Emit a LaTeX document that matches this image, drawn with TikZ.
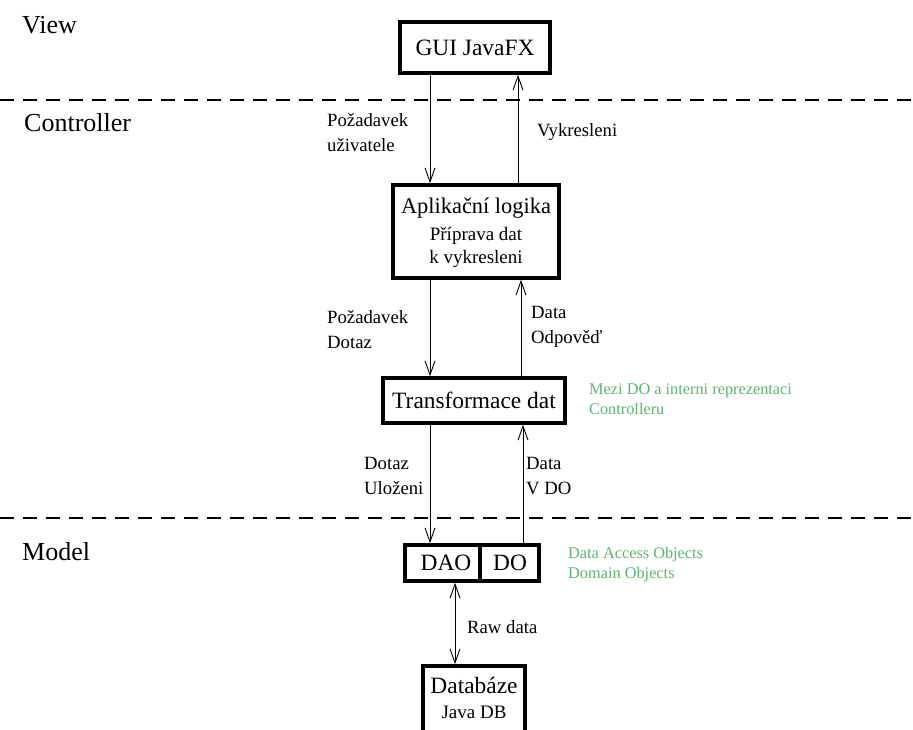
\documentclass[tikz,border=0pt]{standalone}
\usepackage{fontspec}
\setmainfont{Liberation Serif}
\newfontfamily\tnr{Liberation Serif}
\usetikzlibrary{arrows.meta}
\definecolor{notegreen}{RGB}{95,180,115}
\begin{document}
\begin{tikzpicture}[x=1pt,y=-1pt,
  box/.style={draw=black,line width=3.6pt,inner sep=0pt,fill=white},
  txt/.style={inner sep=0pt,anchor=west,align=left,font=\tnr\fontsize{18.7}{25}\selectfont},
  note/.style={inner sep=0pt,anchor=west,align=left,text=notegreen,font=\tnr\fontsize{16.3}{20}\selectfont},
  layer/.style={inner sep=0pt,anchor=west,font=\tnr\fontsize{26}{30}\selectfont},
  title/.style={inner sep=0pt,font=\tnr\fontsize{23.4}{27}\selectfont},
  sub/.style={inner sep=0pt,font=\tnr\fontsize{19}{22}\selectfont},
  arr/.style={line width=1pt,-{Straight Barb[length=14pt,width=10pt,line width=0.9pt]}},
  darr/.style={line width=1pt,{Straight Barb[length=14pt,width=10pt,line width=0.9pt]}-{Straight Barb[length=14pt,width=10pt,line width=0.9pt]}},
  sep/.style={line width=1.3pt,dash pattern=on 14pt off 9pt}]
\clip (0,0) rectangle (913,729);
\fill[white] (0,0) rectangle (913,729);

% layer separators
\draw[sep] (0,100) -- (913,100);
\draw[sep] (0,518) -- (913,518);

% layer names
\node[layer] (view) at (22,25) {View};
\node[layer] (ctrl) at (24,123) {Controller};
\node[layer] (model) at (22,552) {Model};

% boxes
\node[box,minimum width=150pt,minimum height=51pt] (gui) at (475,47.5) {};
\node[title] (guit) at (gui.center) {GUI JavaFX};

\node[box,minimum width=166pt,minimum height=93pt] (app) at (476,231.5) {};
\node[title,font=\tnr\fontsize{22.4}{26}\selectfont] (appt) at (476,208) {Aplikační logika};
\node[sub] (apps1) at (476,236) {Příprava dat};
\node[sub] (apps2) at (476,259) {k vykresleni};

\node[box,minimum width=182pt,minimum height=45pt] (tr) at (474,400.5) {};
\node[title] (trt) at (tr.center) {Transformace dat};

\node[box,minimum width=75pt,minimum height=36pt] (dao) at (442.5,563) {};
\node[box,minimum width=59pt,minimum height=36pt] (do) at (509.5,563) {};
\node[title] (daot) at (446,563) {DAO};
\node[title] (dot) at (510,563) {DO};

\node[box,minimum width=102pt,minimum height=80pt] (db) at (474,706) {};
\node[title] (dbt) at (474,685) {Databáze};
\node[sub] (dbs) at (474,712) {Java DB};

% x positions of connectors
\coordinate (xa) at (430,0);
\coordinate (xb) at (518,0);
\coordinate (xc) at (521,0);
\coordinate (xd) at (523,0);
\coordinate (xe) at (455,0);

% connectors
\draw[arr] (gui.south -| xa) -- (app.north -| xa);
\draw[arr] (app.north -| xb) -- (gui.south -| xb);
\draw[arr] (app.south -| xa) -- (tr.north -| xa);
\draw[arr] (tr.north -| xc) -- (app.south -| xc);
\draw[arr] (tr.south -| xa) -- (dao.north -| xa);
\draw[arr] (do.north -| xd) -- (tr.south -| xd);
\draw[darr] (dao.south -| xe) -- (db.north -| xe);

% connector labels
\node[txt] (l1) at (327,133) {Požadavek\\uživatele};
\node[txt] (l2) at (537,132) {Vykresleni};
\node[txt] (l3) at (327,330) {Požadavek\\Dotaz};
\node[txt] (l4) at (531,327) {Data\\Odpověď};
\node[txt] (l5) at (364,476) {Dotaz\\Uloženi};
\node[txt] (l6) at (526,476) {Data\\V DO};
\node[txt] (l7) at (467,627) {Raw data};

% notes
\node[note] (n1) at (589,399) {Mezi DO a interni reprezentaci\\Controlleru};
\node[note] (n2) at (568,565) {Data Access Objects\\Domain Objects};
\end{tikzpicture}
\end{document}
